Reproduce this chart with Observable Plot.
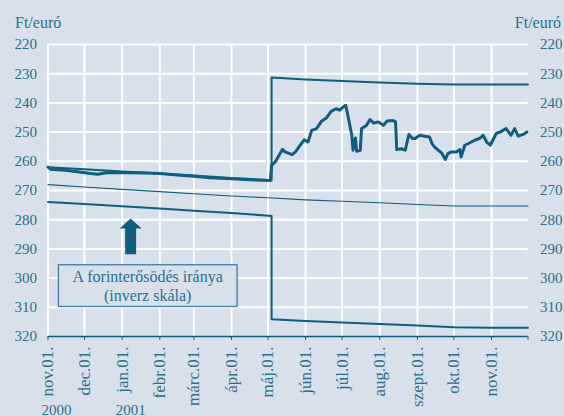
<!DOCTYPE html>
<html><head><meta charset="utf-8">
<script src="https://cdn.jsdelivr.net/npm/d3@7"></script>
<script src="https://cdn.jsdelivr.net/npm/@observablehq/plot@0.6"></script>
<style>
html,body{margin:0;padding:0;background:#d8e0eb;overflow:hidden;}
</style></head><body><div id="chart"></div>
<script>
// ---- data ----
const bandDates = ["2000-11-01","2000-12-01","2001-01-01","2001-02-01","2001-03-01","2001-04-01","2001-05-04","2001-05-04","2001-06-01","2001-07-01","2001-08-01","2001-09-01","2001-10-01","2001-11-01","2001-12-01"];
const upperBand = [262.0,262.7,263.5,264.2,264.9,265.7,266.5,231.3,232.0,232.5,233.0,233.4,233.7,233.7,233.7];
const lowerBand = [273.9,274.6,275.4,276.2,276.9,277.7,278.7,314.1,314.7,315.2,315.7,316.2,316.8,317.0,317.0];

const parityDates = ["2000-11-01","2000-12-01","2001-01-01","2001-02-01","2001-03-01","2001-04-01","2001-05-01","2001-06-01","2001-07-01","2001-08-01","2001-09-01","2001-10-01","2001-11-01","2001-12-01"];
const parityValues = [268.0,268.8,269.6,270.4,271.1,271.9,272.5,273.2,273.7,274.2,274.8,275.3,275.3,275.3];

const rateDates = ["2000-11-01","2000-11-03","2000-11-15","2000-11-22","2000-12-06","2000-12-12","2000-12-19","2001-01-05","2001-01-20","2001-02-01","2001-02-18","2001-03-01","2001-03-14","2001-03-28","2001-04-16","2001-05-03",
"2001-05-04","2001-05-07","2001-05-13","2001-05-15","2001-05-21","2001-05-24","2001-05-27","2001-05-31","2001-06-03","2001-06-06","2001-06-10","2001-06-14","2001-06-18","2001-06-22","2001-06-26","2001-06-29",
"2001-07-02","2001-07-04","2001-07-06","2001-07-09","2001-07-10","2001-07-12","2001-07-13","2001-07-16","2001-07-17","2001-07-21","2001-07-24","2001-07-27","2001-07-31",
"2001-08-04","2001-08-07","2001-08-12","2001-08-14","2001-08-15","2001-08-19","2001-08-22","2001-08-25","2001-08-28","2001-08-30",
"2001-09-03","2001-09-07","2001-09-11","2001-09-13","2001-09-15","2001-09-18","2001-09-21","2001-09-24","2001-09-26","2001-09-29",
"2001-10-03","2001-10-06","2001-10-07","2001-10-10","2001-10-13","2001-10-18","2001-10-22","2001-10-25","2001-10-28","2001-10-31",
"2001-11-02","2001-11-05","2001-11-08","2001-11-13","2001-11-17","2001-11-20","2001-11-23","2001-11-27","2001-11-30"];
const rateValues = [262.0,262.7,263.1,263.4,264.2,264.4,263.9,263.9,264.0,264.2,264.8,265.1,265.6,265.9,266.3,266.6,
261.4,260.2,255.9,256.8,257.7,256.6,254.8,252.6,253.4,249.4,248.8,246.3,245.2,242.9,242.0,242.5,
241.4,240.8,244.8,251.1,256.2,252.0,256.6,256.2,248.8,247.7,245.7,246.9,246.5,
247.7,246.2,246.0,246.5,256.0,255.7,256.2,250.8,252.2,252.2,
251.1,251.4,251.7,253.9,255.1,256.2,257.2,259.4,257.4,256.8,
256.8,256.0,258.5,254.5,253.9,252.8,252.2,251.1,253.4,254.5,
252.8,250.4,250.0,248.8,251.1,248.8,251.4,250.8,250.0];

const monthTickDates = ["2000-11-01","2000-12-01","2001-01-01","2001-02-01","2001-03-01","2001-04-01","2001-05-01","2001-06-01","2001-07-01","2001-08-01","2001-09-01","2001-10-01","2001-11-01","2001-12-01"];
const monthLabels = ["nov.01.","dec.01.","jan.01.","febr.01.","márc.01.","ápr.01.","máj.01.","jún.01.","júl.01.","aug.01.","szept.01.","okt.01.","nov.01.",""];
const yTicks = [220,230,240,250,260,270,280,290,300,310,320];
const yearLabels = ["2000","2001"];
const yearDates = ["2000-11-01","2001-01-01"];
const unitLabel = "Ft/euró";

const noteLines = ["A forinterősödés iránya","(inverz skála)"];
const noteBox = {x1: "2000-11-10", x2: "2001-04-06", y1: 295.6, y2: 309.9, cx: "2001-01-22", cy: 302.6};
const arrowSpec = {date: "2001-01-08", base: 283.0, bottom: 292.0};

// ---- styling ----
const bg = "#d8e0eb";
const textColor = "#2a6f8e";
const lineColor = "#0f5e7e";

const parse = d3.utcParse("%Y-%m-%d");
const toSeries = (dates, vals) => dates.map((d, i) => ({date: parse(d), value: vals[i]}));
const upper = toSeries(bandDates, upperBand);
const lower = toSeries(bandDates, lowerBand);
const parity = toSeries(parityDates, parityValues);
const rate = toSeries(rateDates, rateValues);
const monthTicks = monthTickDates.map(parse);
const labelByTime = new Map(monthTicks.map((d, i) => [+d, monthLabels[i]]));
const years = yearDates.map((d, i) => ({date: parse(d), label: yearLabels[i]}));

const headSymbol = {
  draw(ctx) { ctx.moveTo(0, -10); ctx.lineTo(11, 0); ctx.lineTo(-11, 0); ctx.closePath(); }
};

const plot = Plot.plot({
  width: 564, height: 416,
  marginTop: 44, marginBottom: 80, marginLeft: 47.5, marginRight: 36.5,
  style: {background: bg, fontFamily: "'Liberation Serif','DejaVu Serif',serif", fontSize: "15px", color: textColor},
  x: {type: "utc", domain: [parse("2000-11-01"), parse("2001-12-01")]},
  y: {domain: [220, 320], reverse: true},
  marks: [
    Plot.gridX(monthTicks.slice(0, -1), {stroke: "white", strokeOpacity: 1, strokeWidth: 2}),
    Plot.gridY(yTicks.slice(0, -1), {stroke: "white", strokeOpacity: 1, strokeWidth: 2}),
    Plot.axisY(yTicks, {anchor: "left", tickSize: 0, tickPadding: 11, label: null, fill: textColor}),
    Plot.axisY(yTicks, {anchor: "right", tickSize: 0, tickPadding: 12, label: null, fill: textColor}),
    Plot.axisX(monthTicks, {anchor: "bottom", tickSize: 4, tickPadding: 6, tickRotate: -90, label: null, fontSize: 17,
      tickFormat: d => labelByTime.get(+d) ?? "", stroke: lineColor, fill: textColor}),
    Plot.ruleY([320], {stroke: lineColor, strokeWidth: 1.5}),
    Plot.line(parity, {x: "date", y: "value", stroke: lineColor, strokeWidth: 1.1}),
    Plot.line(upper, {x: "date", y: "value", stroke: lineColor, strokeWidth: 2}),
    Plot.line(lower, {x: "date", y: "value", stroke: lineColor, strokeWidth: 2}),
    Plot.line(rate, {x: "date", y: "value", stroke: lineColor, strokeWidth: 3, strokeLinejoin: "round"}),
    Plot.ruleX([arrowSpec], {x: d => parse(d.date), y1: "base", y2: "bottom", stroke: lineColor, strokeWidth: 11}),
    Plot.dot([arrowSpec], {x: d => parse(d.date), y: "base", symbol: headSymbol, r: 5, fill: lineColor, stroke: null}),
    Plot.rect([noteBox], {x1: d => parse(d.x1), x2: d => parse(d.x2), y1: "y1", y2: "y2", fill: bg, stroke: "#3f7f9c", strokeWidth: 1.3}),
    Plot.text([noteLines.join("\n")], {x: () => parse(noteBox.cx), y: () => noteBox.cy, text: d => d, lineHeight: 1.2, fill: textColor, fontSize: 16}),
    Plot.text([unitLabel], {frameAnchor: "top-left", text: d => d, textAnchor: "start", lineAnchor: "bottom", dx: -33, dy: -17, fill: textColor, fontSize: 16}),
    Plot.text([unitLabel], {frameAnchor: "top-right", text: d => d, textAnchor: "end", lineAnchor: "bottom", dx: 33, dy: -17, fill: textColor, fontSize: 16}),
    Plot.text(years, {x: "date", frameAnchor: "bottom", text: "label", lineAnchor: "bottom", dx: 8.5, dy: 78, fill: textColor, fontSize: 15})
  ]
});
document.getElementById("chart").appendChild(plot);
</script>
</body></html>
